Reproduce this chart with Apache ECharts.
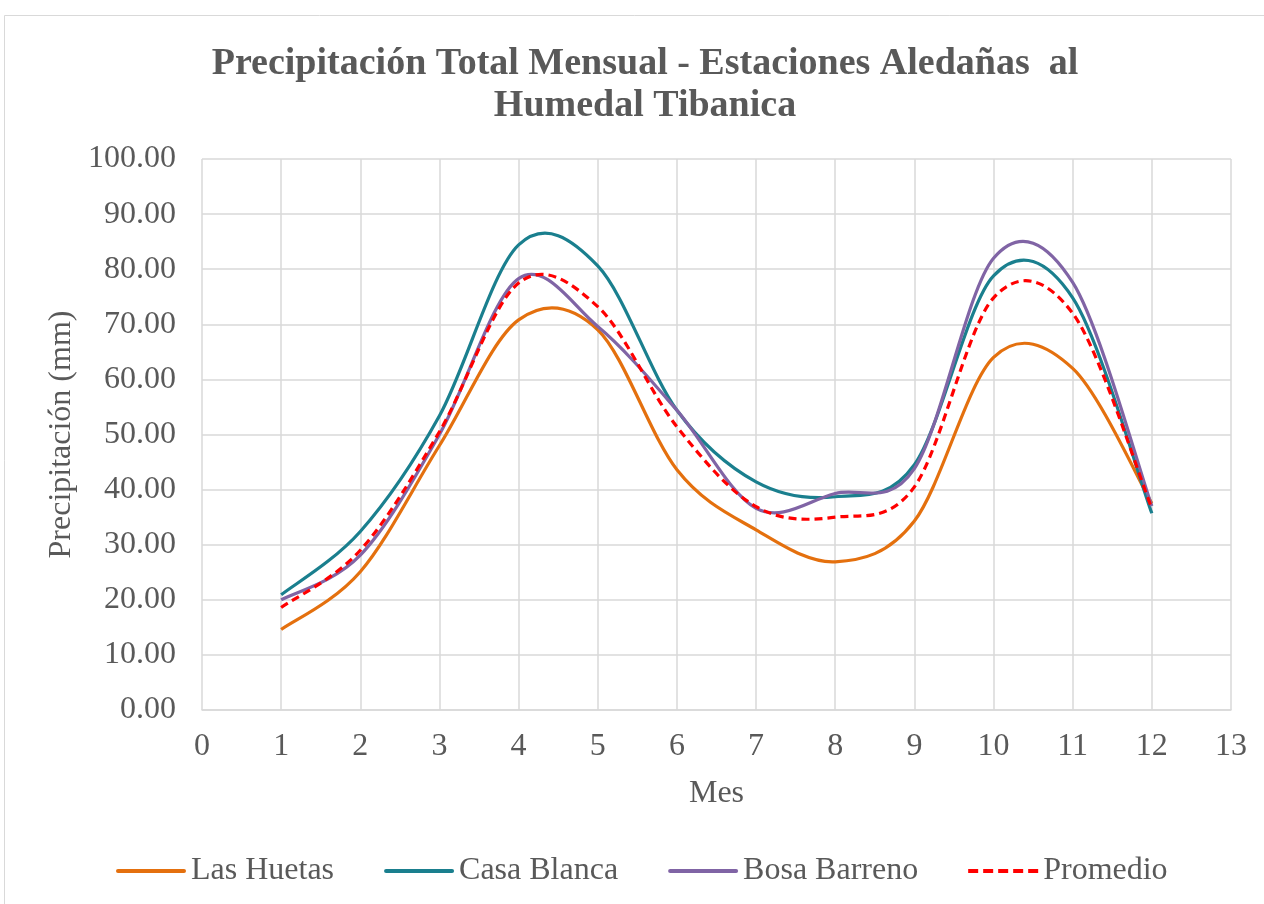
<!DOCTYPE html>
<html>
<head>
<meta charset="utf-8">
<script src="https://cdn.jsdelivr.net/npm/echarts@6/dist/echarts.min.js"></script>
<style>html,body{margin:0;padding:0;background:#fff;}#c{width:1264px;height:904px;}</style>
</head>
<body>
<div id="c"></div>
<script>
const months = [1,2,3,4,5,6,7,8,9,10,11,12];
const lasHuetas   = [14.6, 25.1, 48.0, 70.8, 69.0, 43.6, 32.7, 26.9, 34.3, 64.0, 62.0, 37.5];
const casaBlanca  = [20.9, 32.4, 53.4, 84.4, 80.6, 54.4, 41.4, 38.7, 44.5, 78.8, 74.8, 35.7];
const bosaBarreno = [20.0, 28.1, 50.0, 78.3, 69.6, 54.4, 36.6, 39.3, 43.8, 82.0, 77.6, 37.0];
const promedio    = [18.6, 29.0, 50.5, 77.5, 73.2, 51.4, 36.9, 35.0, 40.5, 74.8, 72.0, 36.6];
const seriesNames = ['Las Huetas', 'Casa Blanca', 'Bosa Barreno', 'Promedio'];
const xTicks = [0,1,2,3,4,5,6,7,8,9,10,11,12,13];

const FONT = '"Liberation Serif", "Times New Roman", serif';
const TXT = '#595959';
const colors = ['#E4700E', '#1A7F8E', '#8064A5', '#FF0000'];
const datasets = [lasHuetas, casaBlanca, bosaBarreno, promedio];
const dashed = [false, false, false, true];

function pairs(arr){ return months.map((m,i)=>[m, arr[i]]); }

// Smooth curve (Catmull-Rom style, like a spreadsheet "smoothed line"),
// drawn through the points after mapping them with the chart's own axes.
function makeRenderer(arr, color, isDashed) {
  return function (params, api) {
    if (params.dataIndex !== 0) return null;
    const p = arr.map((v, i) => api.coord([months[i], v]));
    const n = p.length;
    let d = 'M' + p[0][0] + ',' + p[0][1];
    for (let i = 0; i < n - 1; i++) {
      const p0 = p[Math.max(i - 1, 0)], p1 = p[i], p2 = p[i + 1], p3 = p[Math.min(i + 2, n - 1)];
      const c1x = p1[0] + (p2[0] - p0[0]) / 6, c1y = p1[1] + (p2[1] - p0[1]) / 6;
      const c2x = p2[0] - (p3[0] - p1[0]) / 6, c2y = p2[1] - (p3[1] - p1[1]) / 6;
      d += ' C' + c1x + ',' + c1y + ' ' + c2x + ',' + c2y + ' ' + p2[0] + ',' + p2[1];
    }
    return {
      type: 'path',
      shape: {pathData: d},
      style: {fill: 'none', stroke: color, lineWidth: 3.2,
        lineDash: isDashed ? [8, 5] : null, lineCap: 'butt', lineJoin: 'round'}
    };
  };
}

const solidIcon = 'path://M2,0h66a2,2 0 0 1 0,4h-66a2,2 0 0 1 0,-4z';
const dashIcon = 'path://M0,0h10v4h-10z M15,0h10v4h-10z M30,0h10v4h-10z M45,0h10v4h-10z M60,0h10v4h-10z';

const chart = echarts.init(document.getElementById('c'), null, {renderer:'canvas'});
chart.setOption({
  backgroundColor: '#fff',
  animation: false,
  graphic: [{
    type: 'rect', z: -10, silent: true,
    shape: {x: 4.5, y: 15.5, width: 1400, height: 1000},
    style: {fill: 'none', stroke: '#D9D9D9', lineWidth: 1}
  }],
  title: {
    text: 'Precipitación Total Mensual - Estaciones Aledañas  al\nHumedal Tibanica',
    left: 640, textAlign: 'center', top: 38,
    textStyle: {fontFamily: FONT, fontSize: 38, fontWeight: 'bold', color: TXT, lineHeight: 42}
  },
  legend: {
    data: seriesNames.map((nm, i) => ({name: nm, icon: dashed[i] ? dashIcon : solidIcon,
      itemStyle: {color: colors[i]}})),
    bottom: 12, left: 111,
    itemWidth: 70, itemHeight: 4, itemGap: 50,
    textStyle: {fontFamily: FONT, fontSize: 32, color: TXT}
  },
  grid: {left: 202, right: 33, top: 159, bottom: 194, containLabel: false},
  xAxis: {
    type: 'value', min: 0, max: 13, interval: 1,
    name: 'Mes', nameLocation: 'middle', nameGap: 68,
    nameTextStyle: {fontFamily: FONT, fontSize: 32, color: TXT},
    axisLine: {show: true, lineStyle: {color: '#D9D9D9', width: 1.5}},
    axisTick: {show: false},
    axisLabel: {fontFamily: FONT, fontSize: 32, color: TXT, margin: 21,
      formatter: v => xTicks.includes(v) ? String(v) : ''},
    splitLine: {show: true, lineStyle: {color: '#D9D9D9', width: 1.5}}
  },
  yAxis: {
    type: 'value', min: 0, max: 100, interval: 10,
    name: 'Precipitación (mm)', nameLocation: 'middle', nameGap: 124,
    nameTextStyle: {fontFamily: FONT, fontSize: 32, color: TXT},
    axisLine: {show: false}, axisTick: {show: false},
    axisLabel: {fontFamily: FONT, fontSize: 32, color: TXT, margin: 26, formatter: v => v.toFixed(2)},
    splitLine: {show: true, lineStyle: {color: '#D9D9D9', width: 1.5}}
  },
  series: datasets.map((d, i) => ({
    name: seriesNames[i], type: 'custom', data: pairs(d),
    encode: {x: 0, y: 1},
    renderItem: makeRenderer(d, colors[i], dashed[i]),
    itemStyle: {color: colors[i]},
    z: i === 3 ? 5 : 3
  }))
});
</script>
</body>
</html>
